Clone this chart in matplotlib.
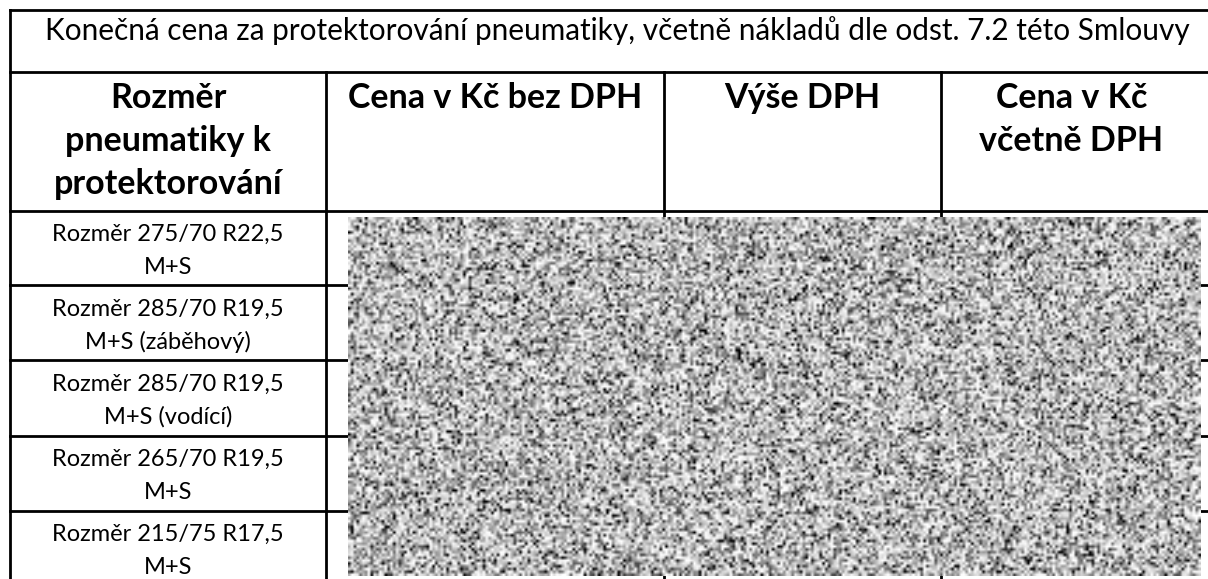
import numpy as np
import matplotlib
matplotlib.use("Agg")
import matplotlib.pyplot as plt

# Obsah tabulky
title = "Konečná cena za protektorování pneumatiky, včetně nákladů dle odst. 7.2 této Smlouvy"
headers = [["Rozměr", "pneumatiky k", "protektorování"],
           ["Cena v Kč bez DPH"],
           ["Výše DPH"],
           ["Cena v Kč", "včetně DPH"]]
rows = [["Rozměr 275/70 R22,5", "M+S"],
        ["Rozměr 285/70 R19,5", "M+S (záběhový)"],
        ["Rozměr 285/70 R19,5", "M+S (vodící)"],
        ["Rozměr 265/70 R19,5", "M+S"],
        ["Rozměr 215/75 R17,5", "M+S"]]

# Geometrie v pixelech
W, H = 1208, 579
col_x = [10, 326, 664, 941, 1202]
hline_y = [10, 72, 211, 285, 360, 436, 511]
row_h = 75

fig = plt.figure(figsize=(W / 100, H / 100), dpi=100)
ax = fig.add_axes([0, 0, 1, 1])
ax.set_xlim(0, W)
ax.set_ylim(H, 0)
ax.axis("off")

lw = 2.0
for y in hline_y:
    ax.plot([col_x[0], W], [y, y], color="black", lw=lw, solid_capstyle="projecting")
ax.plot([col_x[0], col_x[0]], [10, H], color="black", lw=lw)
for x in col_x[1:4]:
    ax.plot([x, x], [72, H], color="black", lw=lw)

font = "Lato"
ax.text(617, 40, title, ha="center", va="baseline", fontsize=21.4, family=font)

for i, lines in enumerate(headers):
    cx = (col_x[i] + col_x[i + 1]) / 2
    for j, s in enumerate(lines):
        ax.text(cx, 108 + 43 * j, s, ha="center", va="baseline",
                fontsize=24.5, fontweight="bold", family=font)

cx = (col_x[0] + col_x[1]) / 2
for i, lines in enumerate(rows):
    top = hline_y[2] + row_h * i
    for j, s in enumerate(lines):
        ax.text(cx, top + 30 + 33 * j, s, ha="center", va="baseline",
                fontsize=17, family=font)

# Zašuměná (začerněná) oblast s cenami - jen textura, ne data
rng = np.random.default_rng(7)
gh, gw = 128, 304
img = np.clip(1.1 * rng.random((gh, gw)) - 0.04, 0, 1) ** 0.45
ax.imshow(img, cmap="gray", vmin=0, vmax=1, extent=[348, 1201, 576, 217],
          interpolation="bilinear", aspect="auto", zorder=5)
ax.set_xlim(0, W)
ax.set_ylim(H, 0)

fig.savefig("out.png", dpi=100)
